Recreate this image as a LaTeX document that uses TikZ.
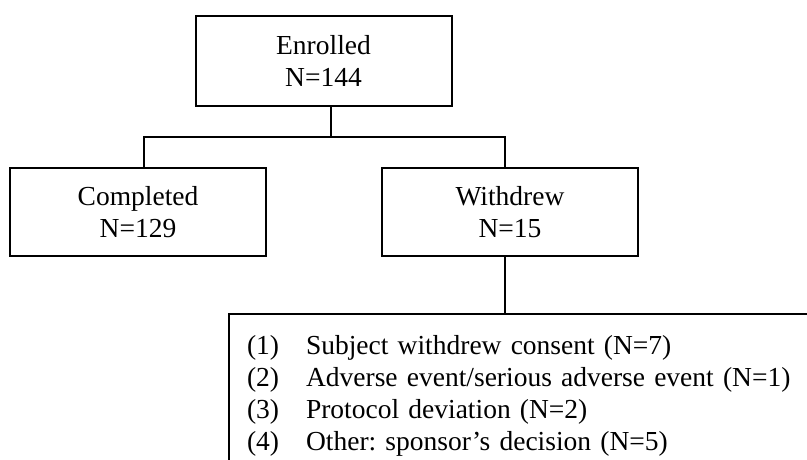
\documentclass[tikz,border=0pt]{standalone}
\usepackage{fontspec}
\setmainfont{Liberation Serif}
\begin{document}
\frenchspacing
\begin{tikzpicture}[x=1pt,y=-1pt,line width=2pt,
    box/.style={draw,line width=2pt,align=center,minimum width=256pt,inner sep=0pt,
      font=\fontsize{27.5}{32}\selectfont},
    reasons/.style={draw,line width=2pt,anchor=north west,text width=604pt,align=left,
      inner xsep=18pt,inner ysep=18pt,font=\fontsize{27.5}{32}\selectfont}]
  \useasboundingbox (0,0) rectangle (807,459);
  \clip (0,0) rectangle (807,459);
  \node[box,minimum height=90pt] (enr) at (323.5,61) {Enrolled\\N=144};
  \node[box,minimum height=88pt] (comp) at (138,212) {Completed\\N=129};
  \node[box,minimum height=88pt] (wd) at (510,212) {Withdrew\\N=15};
  \node[reasons] (why) at (228,313) {\noindent\begin{tabular}{@{}l@{\hspace{27pt}}l@{}}
    (1) & Subject withdrew consent (N=7)\\
    (2) & Adverse event/serious adverse event (N=1)\\
    (3) & Protocol deviation (N=2)\\
    (4) & Other: sponsor’s decision (N=5)
  \end{tabular}};
  \draw ([xshift=7.5pt]enr.south) -- ++(0,30) coordinate (split);
  \draw (split) -| ([xshift=6pt]comp.north);
  \draw (split) -| ([xshift=-5pt]wd.north);
  \draw ([xshift=-5pt]wd.south) -- ([xshift=-5pt]wd.south |- why.north);
\end{tikzpicture}
\end{document}
